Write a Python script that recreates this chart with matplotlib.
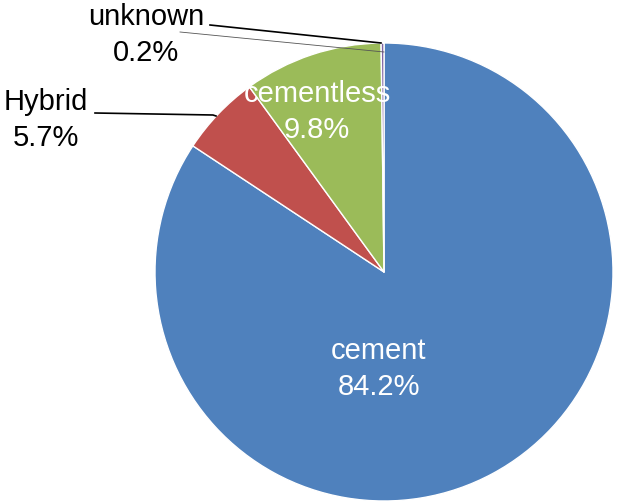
import matplotlib.pyplot as plt

labels = ['cement', 'Hybrid', 'cementless', 'unknown']
values = [84.2, 5.7, 9.8, 0.2]
colors = ['#4F81BD', '#C0504D', '#9BBB59', '#8064A2']

plt.rcParams['font.family'] = ['Liberation Sans', 'DejaVu Sans']

W, H = 617, 503
fig = plt.figure(figsize=(W / 100, H / 100), dpi=100)
ax = fig.add_axes([0, 0, 1, 1])

cx, cy, r = 384, H - 272, 229
ax.pie(values, colors=colors, startangle=90, counterclock=False,
       center=(cx, cy), radius=r, frame=True,
       wedgeprops=dict(edgecolor='white', linewidth=1, joinstyle='round'))
ax.set_xlim(0, W)
ax.set_ylim(0, H)
ax.set_aspect('equal')
ax.axis('off')

# label positions in pixel coords (from top)
pos = {'cement': (379, 369, 'white'),
       'cementless': (317, 112, 'white'),
       'Hybrid': (46, 120, 'black'),
       'unknown': (146, 35, 'black')}
for lab, v in zip(labels, values):
    x, y, c = pos[lab]
    ax.text(x, H - y, f'{lab}\n{v}%', ha='center', va='center',
            fontsize=21, color=c, linespacing=1.38)

# leader lines
ax.plot([95, 213, 216], [H - 113, H - 115, H - 116], color='black', lw=1.2)
ax.plot([210, 381], [H - 25, H - 43], color='black', lw=1.2)
ax.plot([180, 384], [H - 32, H - 52], color='#555555', lw=0.6)

fig.savefig('out.png', dpi=100)
